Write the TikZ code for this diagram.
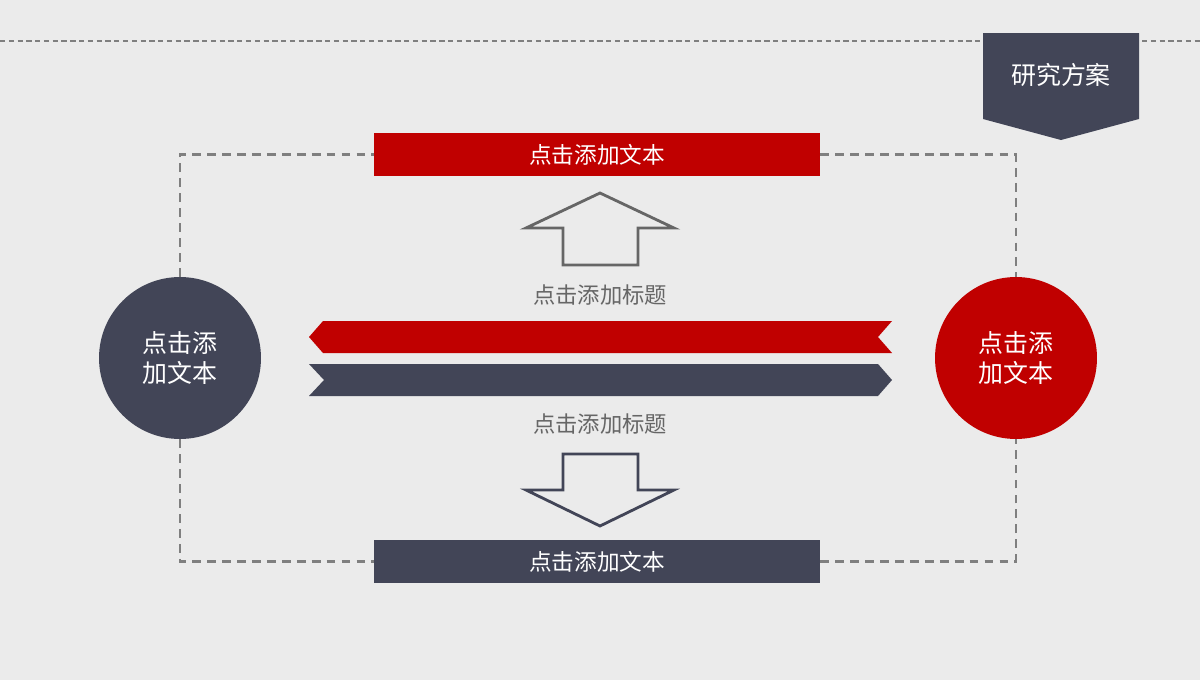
\documentclass[tikz,border=0pt]{standalone}
\usepackage{fontspec}
\newfontfamily\cjk{Noto Sans CJK SC}
\definecolor{bgray}{HTML}{EBEBEB}
\definecolor{ppred}{HTML}{C00000}
\definecolor{ppdark}{HTML}{424557}
\definecolor{ppline}{HTML}{7F7F7F}
\definecolor{pptext}{HTML}{666666}
\begin{document}
\begin{tikzpicture}[x=0.02cm,y=-0.02cm,
    frame/.style={ppline,line width=1.2pt,dash pattern=on 5pt off 3.5pt},
    bar/.style={minimum width=8.92cm,minimum height=0.86cm,inner sep=0pt,
      text=white,font=\cjk\fontsize{12.9}{15}\selectfont},
    disc/.style={circle,minimum size=3.24cm,inner sep=0pt,text=white,align=center,
      font=\cjk\fontsize{14.2}{17.6}\selectfont},
    caption/.style={text=pptext,font=\cjk\fontsize{12.7}{15}\selectfont}]
      \fill[bgray] (0,0) rectangle (1200,680);
      \useasboundingbox (0,0) rectangle (1200,680);
      \draw[ppline,line width=0.8pt,dash pattern=on 3pt off 2pt] (0,41) -- (1200,41);

      % tag
      \fill[ppdark] (983,33) -- (1139,33) -- (1139,119) -- (1061,140) -- (983,119) -- cycle;
      \node[text=white,font=\cjk\fontsize{14.2}{17}\selectfont] (tag) at (1061,75) {研究方案};

      % bars and circles
      \node[bar,fill=ppred] (tb) at (597,154.5) {点击添加文本};
      \node[bar,fill=ppdark] (bb) at (597,561.5) {点击添加文本};
      \node[disc,fill=ppdark] (lc) at (180,358) {点击添\\加文本};
      \node[disc,fill=ppred] (rc) at (1016,358) {点击添\\加文本};

      \draw[frame] (lc.north) |- (tb.west);
      \draw[frame] (tb.east) -| (rc.north);
      \draw[frame] (lc.south) |- (bb.west);
      \draw[frame] (bb.east) -| (rc.south);

      % ribbons
      \fill[ppred] (309,337) -- (323,321) -- (892,321) -- (878,337) -- (892,353) -- (323,353) -- cycle;
      \fill[ppdark] (309,364) -- (878,364) -- (892,380) -- (878,396) -- (309,396) -- (324,380) -- cycle;

      % hollow arrows
      \draw[pptext,line width=1.6pt] (600,193) -- (674,228) -- (638,228) -- (638,265)
        -- (563,265) -- (563,228) -- (526,228) -- cycle;
      \draw[ppdark,line width=1.6pt] (563,454) -- (638,454) -- (638,490) -- (674,490)
        -- (600,526) -- (526,490) -- (563,490) -- cycle;

      \node[caption] (t1) at (600,295) {点击添加标题};
      \node[caption] (t2) at (600,424) {点击添加标题};
\end{tikzpicture}
\end{document}
